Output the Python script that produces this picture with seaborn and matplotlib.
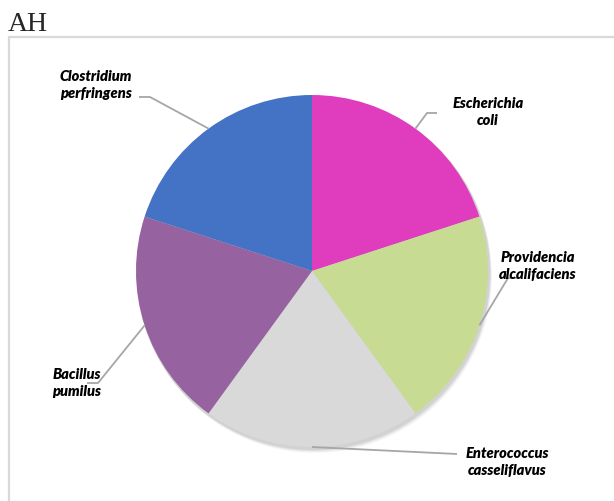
import numpy as np
import matplotlib
matplotlib.use("Agg")
import matplotlib.pyplot as plt
import seaborn as sns
from matplotlib.patches import Rectangle, Circle

species = ["Escherichia\ncoli", "Providencia\nalcalifaciens", "Enterococcus\ncasseliflavus",
           "Bacillus\npumilus", "Clostridium\nperfringens"]
values = [1, 1, 1, 1, 1]
colors = ["#E03DBE", "#C7DB93", "#D9D9D9", "#9662A0", "#4473C5"]
title = "AH"

sns.set_theme(style="white")
plt.rcParams["font.family"] = ["Lato", "DejaVu Sans"]

W, H = 614, 502
fig = plt.figure(figsize=(W / 100, H / 100), dpi=100)
ax = fig.add_axes([0, 0, 1, 1])

cx, cy, r = 312, 502 - 272, 176

# soft shadow
for off, a in [(5, 0.03), (4, 0.04), (3, 0.05), (2, 0.06)]:
    ax.add_patch(Circle((cx + off * 0.6, cy - off), r + 1, color="black", alpha=a, lw=0, zorder=1))

wedges, _ = ax.pie(values, colors=colors, startangle=90, counterclock=False,
                   center=(cx, cy), radius=r, wedgeprops=dict(linewidth=0))
for w in wedges:
    w.set_zorder(2)

ax.set_xlim(0, W)
ax.set_ylim(0, H)
ax.set_aspect("equal")
ax.axis("off")

# frame
ax.add_patch(Rectangle((9, -20), 700, 502 - 38 + 20, fill=False, ec="#D9D9D9", lw=1.6, zorder=0))

# title
fig.text(8 / W, 1 - 31 / H, title, fontsize=20, family="Liberation Serif", ha="left", va="baseline")

# labels: (text centre px, elbow points px)
label_pos = [(488, 112), (538, 266), (507, 462), (77, 383), (96, 85)]
elbows = [
    [(427, 114), (437, 114)],
    [(508, 279), (519, 279)],
    [(457, 455)],
    [(98, 384), (87, 384)],
    [(150, 98), (139, 98)],
]
for w, lab, (tx, ty), el in zip(wedges, species, label_pos, elbows):
    mid = np.deg2rad((w.theta1 + w.theta2) / 2)
    sx = cx + r * np.cos(mid)
    sy = cy + r * np.sin(mid)
    xs = [sx] + [p[0] for p in el]
    ys = [sy] + [H - p[1] for p in el]
    ax.plot(xs, ys, color="#A6A6A6", lw=1.3, zorder=3, solid_capstyle="butt")
    ax.text(tx, H - ty, lab, ha="center", va="center", fontsize=10.5, fontweight="heavy",
            fontstyle="italic", linespacing=1.35, color="black", zorder=4)

fig.savefig("out.png", dpi=100)
